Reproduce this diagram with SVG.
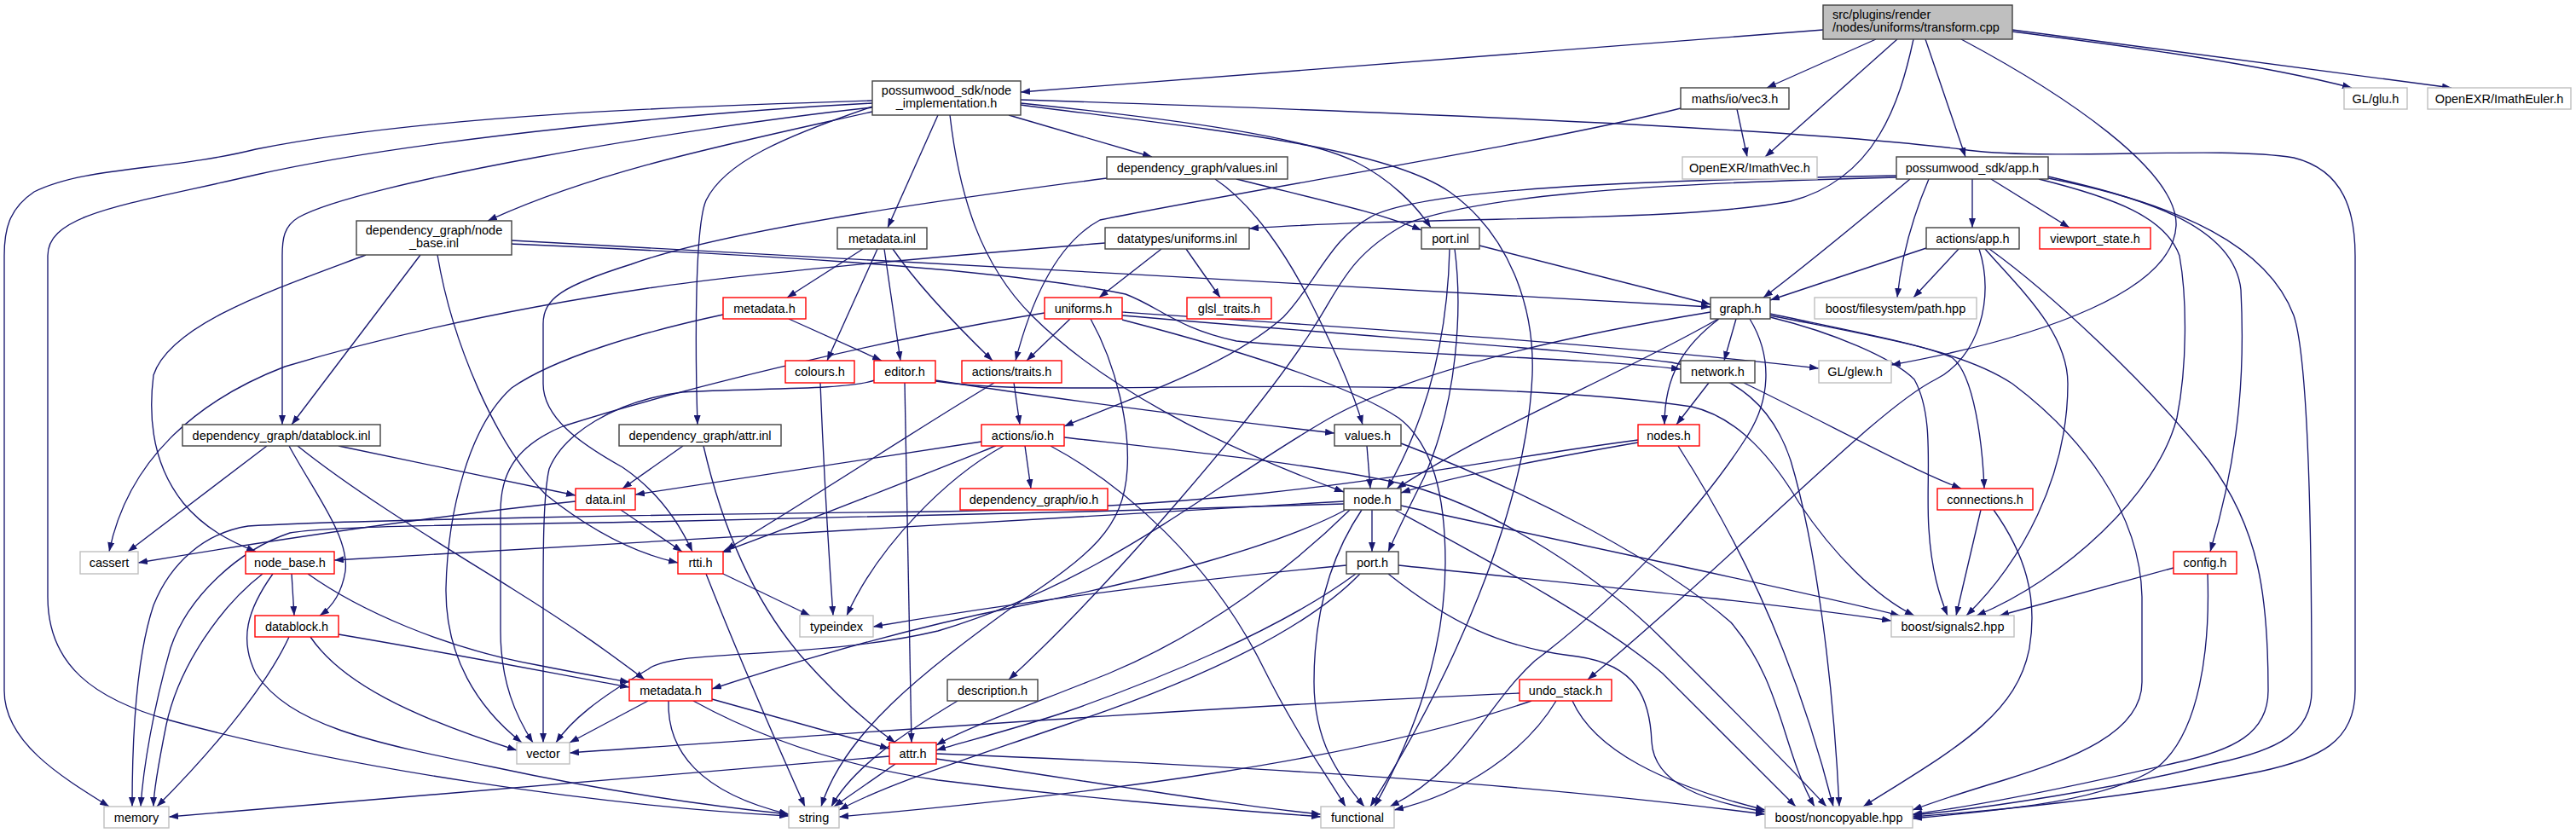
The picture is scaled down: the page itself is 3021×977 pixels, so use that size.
<svg xmlns="http://www.w3.org/2000/svg" width="3021" height="977" viewBox="0 0 3021 977">
<defs>
<marker id="ah" markerWidth="11" markerHeight="8" refX="11" refY="4" orient="auto" markerUnits="userSpaceOnUse"><path d="M0,0 L11,4 L0,8 z" fill="#191970"/></marker>
<style>
.e path{fill:none;stroke:#191970;stroke-width:1.35;marker-end:url(#ah)}
rect{fill:#fff;stroke-width:1.4}
.b rect{stroke:#404040}
.r rect{stroke:#ff0000}
.g rect{stroke:#bfbfbf}
.s rect{fill:#bfbfbf;stroke:#404040}
text{font-family:"Liberation Sans",Arial,sans-serif;font-size:14.5px;fill:#000;text-anchor:middle}
</style>
</defs>
<rect x="0" y="0" width="3021" height="977" style="fill:#fff;stroke:none"/>
<g id="edges" class="e">
<path d="M2138,35 L1197,108"/>
<path d="M2200,46 L2072,103"/>
<path d="M2225,46 L2070,184"/>
<path d="M2244,46 C2228,120 2200,210 2100,236 C1960,262 1700,252 1465,268"/>
<path d="M2258,46 L2305,184"/>
<path d="M2300,46 C2420,110 2555,200 2552,265 C2548,340 2400,395 2218,428"/>
<path d="M2360,37 C2500,55 2650,75 2758,103"/>
<path d="M2360,35 L2875,103"/>
<path d="M1023,118 C800,125 500,135 300,175 C200,200 100,195 40,225 C10,245 5,270 5,300 L5,810 C5,870 70,910 128,946"/>
<path d="M1023,121 C850,130 500,160 300,205 C150,240 56,250 56,300 L56,700 C56,780 110,820 200,845 C400,900 700,945 925,957"/>
<path d="M1023,126 C800,150 420,215 350,255 C333,265 331,280 331,300 L331,498"/>
<path d="M1023,131 C850,170 700,200 572,259"/>
<path d="M1023,125 C920,160 850,190 828,235 C815,265 815,400 818,498"/>
<path d="M1100,135 L1041,267"/>
<path d="M1114,135 C1125,230 1150,310 1210,370 C1290,450 1420,520 1576,577"/>
<path d="M1183,135 L1351,184"/>
<path d="M1197,117 C1600,130 2100,150 2300,175 C2400,190 2600,170 2690,185 C2750,200 2762,250 2762,300 L2762,810 C2762,870 2720,890 2650,905 C2500,935 2350,950 2243,958"/>
<path d="M1197,121 C1380,140 1530,160 1590,190 C1630,210 1660,240 1678,267"/>
<path d="M1197,123 C1400,150 1620,170 1700,225 C1770,275 1800,360 1797,440 C1790,600 1700,800 1607,946"/>
<path d="M2037,128 L2049,184"/>
<path d="M1971,127 C1800,170 1450,225 1290,258 C1240,285 1210,350 1191,423"/>
<path d="M2313,210 L2313,267"/>
<path d="M2335,210 L2427,267"/>
<path d="M2240,210 C2180,260 2120,310 2068,349"/>
<path d="M2262,210 C2245,250 2230,300 2225,349"/>
<path d="M2224,206 C1900,212 1680,222 1612,252 C1560,278 1545,330 1505,372 C1440,430 1330,465 1248,500"/>
<path d="M2224,208 C1900,216 1730,232 1650,262 C1580,300 1570,340 1540,385 C1480,480 1300,690 1183,797"/>
<path d="M2391,210 C2480,232 2540,255 2556,300 C2565,350 2565,430 2553,490 C2530,580 2420,680 2318,722"/>
<path d="M2402,207 C2500,230 2620,260 2628,340 C2632,420 2630,520 2592,647"/>
<path d="M2402,209 C2560,240 2660,290 2690,370 C2710,430 2711,700 2711,810 C2711,860 2670,880 2600,895 C2480,925 2330,948 2243,956"/>
<path d="M2262,290 L2076,352"/>
<path d="M2297,292 L2244,349"/>
<path d="M2328,292 C2370,340 2425,390 2425,450 C2425,560 2370,660 2306,722"/>
<path d="M2333,292 C2400,340 2520,450 2590,540 C2650,620 2660,700 2660,810 C2660,860 2620,880 2550,895 C2420,925 2320,945 2243,955"/>
<path d="M2321,292 C2340,350 2320,420 2270,445 C2200,480 2050,640 1862,797"/>
<path d="M1450,210 C1550,235 1620,250 1667,270"/>
<path d="M1425,210 C1470,240 1510,300 1540,360 C1570,420 1590,470 1598,498"/>
<path d="M1298,209 C1100,235 850,270 740,310 C660,335 637,350 637,380 L637,450 C637,490 680,520 730,548 C770,575 795,610 812,647"/>
<path d="M1362,292 L1289,349"/>
<path d="M1391,292 L1431,349"/>
<path d="M1296,285 C1050,305 850,325 760,338 C600,362 450,395 334,430 C230,470 150,540 128,647"/>
<path d="M1735,288 L2006,357"/>
<path d="M1700,292 C1698,380 1680,480 1627,573"/>
<path d="M1706,292 C1715,360 1710,470 1670,560 C1650,600 1640,620 1628,647"/>
<path d="M493,299 L342,498"/>
<path d="M429,299 C320,340 200,380 180,440 C175,480 175,540 215,590 C240,620 270,635 300,647"/>
<path d="M513,299 C530,400 580,520 640,580 C690,620 740,648 795,660"/>
<path d="M600,282 C1000,305 1600,335 2006,360"/>
<path d="M600,286 C800,295 1150,310 1320,345 C1360,360 1380,385 1450,400 C1600,415 1850,418 1971,433"/>
<path d="M1012,292 L923,349"/>
<path d="M1029,292 L970,423"/>
<path d="M1037,292 L1056,423"/>
<path d="M1047,292 C1080,340 1130,390 1164,423"/>
<path d="M925,374 L1034,423"/>
<path d="M848,369 C750,390 650,420 600,455 C550,500 525,600 523,690 C522,770 560,830 612,871"/>
<path d="M1255,374 L1204,423"/>
<path d="M1225,367 C1050,395 800,455 660,500 C600,525 587,560 587,600 L587,740 C587,800 605,840 625,871"/>
<path d="M1316,366 C1600,385 1900,405 2133,432"/>
<path d="M1316,370 C1600,395 1850,410 1960,425 C2040,440 2080,480 2100,540 C2130,640 2150,800 2157,946"/>
<path d="M1279,374 C1310,430 1325,500 1322,550 C1318,620 1280,650 1190,710 C1080,790 990,860 963,946"/>
<path d="M1316,375 C1450,410 1580,450 1640,490 C1680,520 1695,580 1695,660 C1695,760 1660,860 1612,946"/>
<path d="M1061,449 C1063,600 1066,750 1069,871"/>
<path d="M1026,446 C990,458 880,455 800,460 C720,470 660,510 644,550 C637,580 637,650 637,700 L637,871"/>
<path d="M1097,446 C1250,470 1450,495 1565,508"/>
<path d="M1097,447 C1150,455 1200,455 1300,455 C1500,452 1800,450 1984,477 C2040,490 2080,540 2110,590 C2150,650 2200,700 2245,722"/>
<path d="M1189,449 L1196,498"/>
<path d="M1166,449 C1080,500 960,580 851,645"/>
<path d="M1168,523 C1050,570 950,610 846,648"/>
<path d="M1202,523 L1209,573"/>
<path d="M1151,518 C1000,540 850,565 745,580"/>
<path d="M1177,523 C1110,560 1030,640 993,722"/>
<path d="M1232,523 C1320,570 1420,660 1480,780 C1520,860 1550,900 1578,946"/>
<path d="M1248,513 C1400,530 1550,545 1655,570 C1760,600 1880,680 1950,750 C2030,830 2100,900 2142,946"/>
<path d="M1603,523 L1607,573"/>
<path d="M1643,520 C1800,580 1950,660 2030,730 C2090,800 2090,880 2128,946"/>
<path d="M1921,519 C1800,540 1700,560 1643,578"/>
<path d="M1921,516 C1700,545 1500,595 1100,600 C800,603 400,610 291,617 C240,625 200,660 180,710 C160,770 155,860 155,946"/>
<path d="M1968,523 C2030,620 2100,750 2150,946"/>
<path d="M1609,598 L1609,647"/>
<path d="M1576,588 L392,657"/>
<path d="M1576,591 C1300,600 900,610 760,612 C500,616 380,618 340,625 C280,645 220,700 200,760 C180,830 168,900 165,946"/>
<path d="M1597,598 C1555,660 1541,730 1541,800 C1541,870 1570,910 1600,946"/>
<path d="M1643,593 C1900,650 2100,690 2228,722"/>
<path d="M1636,598 C1750,660 1880,730 1950,790 C2020,860 2070,910 2106,946"/>
<path d="M1578,598 C1500,640 1350,680 1190,712 C1050,740 920,780 835,808"/>
<path d="M1583,598 C1520,660 1420,740 1300,790 C1200,830 1130,855 1098,874"/>
<path d="M1579,663 C1400,680 1200,705 1024,735"/>
<path d="M1590,673 C1500,740 1350,800 1250,835 C1180,858 1130,870 1098,880"/>
<path d="M1595,673 C1530,740 1400,800 1250,850 C1120,895 1040,920 984,950"/>
<path d="M1640,663 C1900,690 2100,710 2218,728"/>
<path d="M1628,673 C1700,730 1760,760 1850,770 C1920,780 1935,820 1937,870 C1940,920 2000,940 2070,952"/>
<path d="M1782,813 C1400,830 1000,860 668,883"/>
<path d="M1825,822 C1790,880 1720,930 1635,950"/>
<path d="M1796,822 C1600,890 1300,930 984,958"/>
<path d="M1844,822 C1870,880 1950,920 2070,950"/>
<path d="M2323,598 L2294,722"/>
<path d="M2338,598 C2375,650 2390,700 2380,760 C2365,840 2290,880 2185,946"/>
<path d="M2004,449 L1966,498"/>
<path d="M2045,449 C2150,500 2240,550 2300,573"/>
<path d="M2036,374 L2022,423"/>
<path d="M2016,374 C1975,405 1952,440 1952,498"/>
<path d="M2015,374 C1900,440 1750,500 1638,573"/>
<path d="M2052,374 C2080,420 2075,470 2050,510 C2000,590 1900,700 1800,775 C1740,830 1720,900 1630,946"/>
<path d="M2006,366 C1800,400 1650,440 1560,490 C1420,570 1300,680 1100,740 C950,775 790,760 760,785 C700,820 670,845 652,871"/>
<path d="M2076,368 C2180,390 2260,405 2290,420 C2315,440 2325,520 2327,573"/>
<path d="M2076,370 C2200,395 2300,410 2360,450 C2440,510 2510,600 2512,700 L2512,800 C2512,860 2430,890 2350,915 C2300,930 2270,940 2243,950"/>
<path d="M2076,372 C2150,390 2220,420 2245,445 C2270,490 2258,560 2262,620 C2265,670 2275,700 2284,722"/>
<path d="M2549,666 L2345,722"/>
<path d="M2589,673 C2592,760 2580,860 2530,900 C2470,940 2350,950 2243,960"/>
<path d="M313,523 L150,647"/>
<path d="M397,523 L675,581"/>
<path d="M339,523 C370,580 410,630 405,670 C400,700 385,715 375,722"/>
<path d="M349,523 C420,580 520,640 600,690 C680,740 720,770 756,797"/>
<path d="M675,588 C560,600 400,620 162,660"/>
<path d="M728,598 L800,647"/>
<path d="M801,523 L730,573"/>
<path d="M825,523 C845,610 880,700 940,770 C980,815 1020,850 1050,871"/>
<path d="M342,673 L345,722"/>
<path d="M308,673 C260,710 210,780 195,850 C185,900 180,930 180,946"/>
<path d="M320,673 C290,715 280,750 300,790 C340,850 430,870 580,900 C720,930 830,945 925,955"/>
<path d="M361,673 C420,715 520,760 630,780 C680,790 710,795 738,800"/>
<path d="M397,744 C550,770 650,790 738,806"/>
<path d="M364,747 C400,800 480,840 606,880"/>
<path d="M339,747 C310,810 240,890 184,946"/>
<path d="M760,822 L668,871"/>
<path d="M784,822 C782,880 820,930 925,955"/>
<path d="M835,820 L1043,878"/>
<path d="M813,822 C900,870 1000,900 1100,915 C1300,940 1450,950 1549,958"/>
<path d="M1050,896 L978,946"/>
<path d="M1043,887 C800,910 500,935 198,958"/>
<path d="M1098,890 C1300,920 1450,945 1549,955"/>
<path d="M1098,884 C1500,900 1800,920 2070,955"/>
<path d="M1123,822 C1060,860 1000,900 975,946"/>
<path d="M848,673 L950,722"/>
<path d="M828,673 C870,780 910,870 944,946"/>
<path d="M962,449 C966,550 972,650 977,722"/>
</g>
<g id="n_src" class="s"><rect x="2138" y="6" width="222" height="40"/><text x="2149" y="22" style="text-anchor:start">src/plugins/render</text><text x="2149" y="37" style="text-anchor:start">/nodes/uniforms/transform.cpp</text></g>
<g id="n_node_implementation" class="b"><rect x="1023" y="95" width="174" height="40"/><text x="1110" y="111">possumwood_sdk/node</text><text x="1110" y="126">_implementation.h</text></g>
<g id="n_vec3" class="b"><rect x="1971" y="103" width="127" height="25"/><text x="2034.5" y="120.5">maths/io/vec3.h</text></g>
<g id="n_imathvec" class="g"><rect x="1973" y="184" width="158" height="26"/><text x="2052" y="202">OpenEXR/ImathVec.h</text></g>
<g id="n_glu" class="g"><rect x="2749" y="103" width="74" height="25"/><text x="2786" y="120.5">GL/glu.h</text></g>
<g id="n_imatheuler" class="g"><rect x="2847" y="103" width="168" height="25"/><text x="2931" y="120.5">OpenEXR/ImathEuler.h</text></g>
<g id="n_app" class="b"><rect x="2224" y="184" width="178" height="26"/><text x="2313" y="202">possumwood_sdk/app.h</text></g>
<g id="n_values_inl" class="b"><rect x="1298" y="184" width="212" height="26"/><text x="1404" y="202">dependency_graph/values.inl</text></g>
<g id="n_uniforms_inl" class="b"><rect x="1296" y="267" width="169" height="25"/><text x="1380.5" y="284.5">datatypes/uniforms.inl</text></g>
<g id="n_port_inl" class="b"><rect x="1667" y="267" width="68" height="25"/><text x="1701" y="284.5">port.inl</text></g>
<g id="n_node_base_inl" class="b"><rect x="418" y="259" width="182" height="40"/><text x="509" y="275">dependency_graph/node</text><text x="509" y="290">_base.inl</text></g>
<g id="n_metadata_inl" class="b"><rect x="982" y="267" width="105" height="25"/><text x="1034.5" y="284.5">metadata.inl</text></g>
<g id="n_actions_app" class="b"><rect x="2259" y="267" width="109" height="25"/><text x="2313.5" y="284.5">actions/app.h</text></g>
<g id="n_viewport_state" class="r"><rect x="2392" y="267" width="130" height="25"/><text x="2457" y="284.5">viewport_state.h</text></g>
<g id="n_metadata_h1" class="r"><rect x="848" y="349" width="97" height="25"/><text x="896.5" y="366.5">metadata.h</text></g>
<g id="n_uniforms_h" class="r"><rect x="1225" y="349" width="91" height="25"/><text x="1270.5" y="366.5">uniforms.h</text></g>
<g id="n_glsl_traits" class="r"><rect x="1392" y="349" width="99" height="25"/><text x="1441.5" y="366.5">glsl_traits.h</text></g>
<g id="n_graph" class="b"><rect x="2006" y="349" width="70" height="25"/><text x="2041" y="366.5">graph.h</text></g>
<g id="n_path" class="g"><rect x="2128" y="349" width="190" height="25"/><text x="2223" y="366.5">boost/filesystem/path.hpp</text></g>
<g id="n_colours" class="r"><rect x="921" y="423" width="81" height="26"/><text x="961.5" y="441">colours.h</text></g>
<g id="n_editor" class="r"><rect x="1025" y="423" width="72" height="26"/><text x="1061" y="441">editor.h</text></g>
<g id="n_traits" class="r"><rect x="1128" y="423" width="117" height="26"/><text x="1186.5" y="441">actions/traits.h</text></g>
<g id="n_network" class="b"><rect x="1971" y="423" width="87" height="26"/><text x="2014.5" y="441">network.h</text></g>
<g id="n_glew" class="g"><rect x="2133" y="423" width="85" height="26"/><text x="2175.5" y="441">GL/glew.h</text></g>
<g id="n_datablock_inl" class="b"><rect x="214" y="498" width="232" height="25"/><text x="330" y="515.5">dependency_graph/datablock.inl</text></g>
<g id="n_attr_inl" class="b"><rect x="726" y="498" width="190" height="25"/><text x="821" y="515.5">dependency_graph/attr.inl</text></g>
<g id="n_io_h" class="r"><rect x="1151" y="498" width="97" height="25"/><text x="1199.5" y="515.5">actions/io.h</text></g>
<g id="n_values_h" class="b"><rect x="1565" y="498" width="78" height="25"/><text x="1604" y="515.5">values.h</text></g>
<g id="n_nodes_h" class="r"><rect x="1921" y="498" width="72" height="25"/><text x="1957" y="515.5">nodes.h</text></g>
<g id="n_data_inl" class="r"><rect x="675" y="573" width="70" height="25"/><text x="710" y="590.5">data.inl</text></g>
<g id="n_dg_io" class="r"><rect x="1126" y="573" width="173" height="25"/><text x="1212.5" y="590.5">dependency_graph/io.h</text></g>
<g id="n_node_h" class="b"><rect x="1576" y="573" width="67" height="25"/><text x="1609.5" y="590.5">node.h</text></g>
<g id="n_connections" class="r"><rect x="2272" y="573" width="112" height="25"/><text x="2328" y="590.5">connections.h</text></g>
<g id="n_cassert" class="g"><rect x="94" y="647" width="68" height="26"/><text x="128" y="665">cassert</text></g>
<g id="n_node_base_h" class="r"><rect x="288" y="647" width="104" height="26"/><text x="340" y="665">node_base.h</text></g>
<g id="n_rtti" class="r"><rect x="795" y="647" width="53" height="26"/><text x="821.5" y="665">rtti.h</text></g>
<g id="n_port_h" class="b"><rect x="1579" y="647" width="61" height="26"/><text x="1609.5" y="665">port.h</text></g>
<g id="n_config" class="r"><rect x="2549" y="647" width="74" height="26"/><text x="2586" y="665">config.h</text></g>
<g id="n_datablock_h" class="r"><rect x="299" y="722" width="98" height="25"/><text x="348" y="739.5">datablock.h</text></g>
<g id="n_typeindex" class="g"><rect x="938" y="722" width="86" height="25"/><text x="981" y="739.5">typeindex</text></g>
<g id="n_signals2" class="g"><rect x="2218" y="722" width="144" height="25"/><text x="2290" y="739.5">boost/signals2.hpp</text></g>
<g id="n_metadata_h2" class="r"><rect x="738" y="797" width="97" height="25"/><text x="786.5" y="814.5">metadata.h</text></g>
<g id="n_description" class="b"><rect x="1111" y="797" width="106" height="25"/><text x="1164" y="814.5">description.h</text></g>
<g id="n_undo_stack" class="r"><rect x="1782" y="797" width="108" height="25"/><text x="1836" y="814.5">undo_stack.h</text></g>
<g id="n_vector" class="g"><rect x="606" y="871" width="62" height="25"/><text x="637" y="888.5">vector</text></g>
<g id="n_attr_h" class="r"><rect x="1043" y="871" width="55" height="25"/><text x="1070.5" y="888.5">attr.h</text></g>
<g id="n_memory" class="g"><rect x="122" y="946" width="76" height="25"/><text x="160" y="963.5">memory</text></g>
<g id="n_string" class="g"><rect x="925" y="946" width="59" height="25"/><text x="954.5" y="963.5">string</text></g>
<g id="n_functional" class="g"><rect x="1549" y="946" width="86" height="25"/><text x="1592" y="963.5">functional</text></g>
<g id="n_noncopyable" class="g"><rect x="2070" y="946" width="173" height="25"/><text x="2156.5" y="963.5">boost/noncopyable.hpp</text></g>
</svg>
